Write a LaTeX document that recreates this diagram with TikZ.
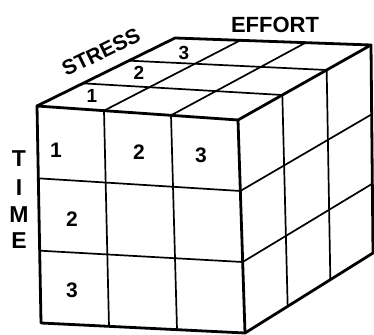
\documentclass[tikz,border=0pt]{standalone}
\usepackage{fontspec}
\setmainfont{Liberation Sans}
\usetikzlibrary{calc}

\begin{document}
\begin{tikzpicture}[
    x=1pt, y=-1pt,
    edge/.style={line width=2.8pt, line join=round, line cap=round},
    grid/.style={line width=1.7pt},
    axis/.style={font=\fontsize{22}{22}\selectfont\bfseries, inner sep=0pt},
    num/.style={font=\fontsize{21}{21}\selectfont\bfseries, inner sep=0pt},
    topnum/.style={font=\fontsize{19}{19}\selectfont\bfseries, inner sep=0pt}
]
\useasboundingbox (0,0) rectangle (374,334);

% Ecken des Wuerfels
\coordinate (ftl) at (37,106);
\coordinate (ftr) at (238,120);
\coordinate (fbl) at (41,323);
\coordinate (fbr) at (245,333);
\coordinate (btl) at (175,38);
\coordinate (btr) at (371,45);
\coordinate (bbr) at (373,253);

% Rasterlinien
\foreach \t in {0.3333,0.6667} {
    % Vorderseite
    \draw[grid] ($(ftl)!\t!(ftr)$) -- ($(fbl)!\t!(fbr)$);
    \draw[grid] ($(ftl)!\t!(fbl)$) -- ($(ftr)!\t!(fbr)$);
    % Oberseite
    \draw[grid] ($(ftl)!\t!(btl)$) -- ($(ftr)!\t!(btr)$);
    \draw[grid] ($(ftl)!\t!(ftr)$) -- ($(btl)!\t!(btr)$);
    % rechte Seite
    \draw[grid] ($(ftr)!\t!(btr)$) -- ($(fbr)!\t!(bbr)$);
    \draw[grid] ($(ftr)!\t!(fbr)$) -- ($(btr)!\t!(bbr)$);
}

% Umrisse
\draw[edge] (ftl) -- (ftr) -- (fbr) -- (fbl) -- cycle;
\draw[edge] (ftl) -- (btl) -- (btr) -- (ftr);
\draw[edge] (btr) -- (bbr) -- (fbr);

% Achsenbeschriftungen
\node[axis] (effort) at (275,25) {EFFORT};
\node[axis, font=\fontsize{21}{21}\selectfont\bfseries, rotate=26] (stress) at (101,52) {STRESS};
\node[axis, font=\fontsize{23}{23}\selectfont\bfseries] (tT) at (19,159) {T};
\node[axis, font=\fontsize{23}{23}\selectfont\bfseries] (tI) at (19,188) {I};
\node[axis, font=\fontsize{23}{23}\selectfont\bfseries] (tM) at (19,215) {M};
\node[axis, font=\fontsize{23}{23}\selectfont\bfseries] (tE) at (19,241) {E};

% Zahlen Vorderseite
\node[num] (f1) at (56,150) {1};
\node[num] (f2) at (139,152) {2};
\node[num] (f3) at (201,155) {3};
\node[num] (r2) at (72,219) {2};
\node[num] (r3) at (72,290) {3};

% Zahlen Oberseite
\node[topnum] (s1) at (92,96) {1};
\node[topnum] (s2) at (139,73) {2};
\node[topnum] (s3) at (184,53) {3};

\end{tikzpicture}
\end{document}
